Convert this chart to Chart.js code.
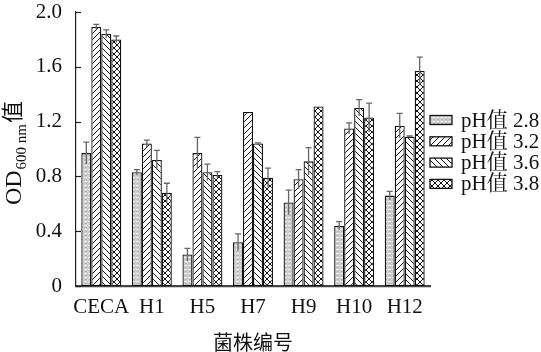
<!DOCTYPE html>
<html><head><meta charset="utf-8">
<script src="https://cdn.jsdelivr.net/npm/chart.js@4.4.0/dist/chart.umd.min.js"></script>
<style>html,body{margin:0;padding:0;background:#fff;}</style>
</head><body><canvas id="c" width="541" height="352"></canvas>
<script>
const categories = ['CECA','H1','H5','H7','H9','H10','H12'];
const seriesLabels = ['pH值 2.8','pH值 3.2','pH值 3.6','pH值 3.8'];
const ph28 = [0.97,0.83,0.23,0.32,0.61,0.44,0.66];
const ph32 = [1.89,1.04,0.97,1.27,0.78,1.15,1.17];
const ph36 = [1.84,0.92,0.83,1.04,0.91,1.30,1.09];
const ph38 = [1.80,0.68,0.81,0.79,1.31,1.23,1.57];
const err28 = [0.08,0.02,0.045,0.06,0.09,0.03,0.03];
const err32 = [0.02,0.025,0.115,0,0.07,0.04,0.09];
const err36 = [0.03,0.07,0.06,0.005,0.10,0.06,0.005];
const err38 = [0.025,0.07,0.025,0.07,0,0.105,0.10];
const yTicks = [0,0.4,0.8,1.2,1.6,2.0];
const yTitleMain = 'OD', yTitleSub = '600 nm', yTitleEnd = '值';
const xTitle = '菌株编号';

const FONT = '"Liberation Serif","Noto Serif CJK SC","Noto Sans CJK SC",serif';
const CJK = '"Noto Sans CJK SC","Liberation Serif",sans-serif';

function makePattern(kind){
  const s = kind==='gray'?4:6;
  const cv = document.createElement('canvas'); cv.width=s; cv.height=s;
  const g = cv.getContext('2d');
  if(kind==='gray'){
    g.fillStyle='#cdcdcd'; g.fillRect(0,0,s,s);
    g.fillStyle='#ececec'; g.fillRect(0,1,3,1);
    g.fillStyle='#b8b8b8'; g.fillRect(1,3,2,1);
  } else {
    g.fillStyle='#fff'; g.fillRect(0,0,s,s);
    g.strokeStyle='#111'; g.lineWidth=1;
    const fwd=()=>{g.beginPath();g.moveTo(-1,s+1);g.lineTo(s+1,-1);g.moveTo(-1,1);g.lineTo(1,-1);g.moveTo(s-1,s+1);g.lineTo(s+1,s-1);g.stroke();};
    const back=()=>{g.beginPath();g.moveTo(-1,-1);g.lineTo(s+1,s+1);g.moveTo(s-1,-1);g.lineTo(s+1,1);g.moveTo(-1,s-1);g.lineTo(1,s+1);g.stroke();};
    if(kind==='fwd') fwd();
    if(kind==='back') back();
    if(kind==='cross'){fwd();back();}
  }
  return document.getElementById('c').getContext('2d').createPattern(cv,'repeat');
}
const patterns = [makePattern('gray'),makePattern('fwd'),makePattern('back'),makePattern('cross')];
const values = [ph28,ph32,ph36,ph38];
const errors = [err28,err32,err36,err38];

const datasets = values.map((v,i)=>({
  label: seriesLabels[i], data: v, errors: errors[i],
  backgroundColor: patterns[i], borderColor:'#111', borderWidth:1.3, borderSkipped:false,
  categoryPercentage:0.79, barPercentage:1.0
}));

const errorBars = {
  id:'errorBars',
  afterDatasetsDraw(chart){
    const ctx=chart.ctx, y=chart.scales.y;
    ctx.save(); ctx.strokeStyle='#666'; ctx.lineWidth=1.3;
    chart.data.datasets.forEach((ds,di)=>{
      const meta=chart.getDatasetMeta(di);
      meta.data.forEach((bar,j)=>{
        const e=ds.errors[j]; if(!e) return;
        const v=ds.data[j];
        const yt=y.getPixelForValue(v+e), yb=y.getPixelForValue(v-e);
        ctx.beginPath();
        ctx.moveTo(bar.x,yt); ctx.lineTo(bar.x,yb);
        ctx.moveTo(bar.x-3,yt); ctx.lineTo(bar.x+3,yt);
        ctx.stroke();
      });
    });
    ctx.restore();
  }
};

const decorations = {
  id:'decorations',
  afterDraw(chart){
    const ctx=chart.ctx, ys=chart.scales.y, ca=chart.chartArea;
    ctx.save();
    ctx.strokeStyle='#222'; ctx.lineWidth=1.2;
    ys.ticks.forEach(t=>{
      const py=Math.round(ys.getPixelForValue(t.value))+0.5;
      ctx.beginPath(); ctx.moveTo(ca.left,py); ctx.lineTo(ca.left+5,py); ctx.stroke();
    });
    ctx.fillStyle='#111';
    const mainF='24px '+FONT, subF='15px '+FONT;
    ctx.font=mainF; const w1=ctx.measureText(yTitleMain).width;
    ctx.font=subF; const w2=ctx.measureText(yTitleSub).width;
    ctx.font='22px '+CJK; const w3=ctx.measureText(yTitleEnd).width;
    const total=w1+1+w2+1+w3;
    const cy=153;
    ctx.translate(21, cy+total/2); ctx.rotate(-Math.PI/2);
    ctx.textBaseline='alphabetic'; ctx.textAlign='left';
    ctx.font=mainF; ctx.fillText(yTitleMain,0,0);
    ctx.font=subF; ctx.fillText(yTitleSub,w1+1,5);
    ctx.font='22px '+CJK; ctx.fillText(yTitleEnd,w1+w2+2,-1);
    ctx.setTransform(1,0,0,1,0,0);
    const lx=430, ly0=120, step=21.3;
    chart.data.datasets.forEach((ds,i)=>{
      const cyy=ly0+i*step;
      ctx.fillStyle=ds.backgroundColor; ctx.fillRect(lx,cyy-4.5,22,9);
      ctx.strokeStyle='#111'; ctx.lineWidth=1.3; ctx.strokeRect(lx,cyy-4.5,22,9);
      ctx.fillStyle='#111'; ctx.font='21px '+FONT; ctx.textBaseline='middle'; ctx.textAlign='left';
      ctx.fillText(ds.label,lx+31,cyy+1);
    });
    ctx.restore();
  }
};

new Chart(document.getElementById('c'),{
  type:'bar',
  data:{labels:categories,datasets},
  options:{
    responsive:false, animation:false, devicePixelRatio:1,
    layout:{padding:{top:0,right:111,left:0,bottom:0}},
    plugins:{legend:{display:false},tooltip:{enabled:false}},
    scales:{
      x:{
        grid:{display:false,drawTicks:false},
        border:{display:true,color:'#444',width:2.2},
        ticks:{color:'#111',font:{family:FONT,size:21},padding:9,maxRotation:0,autoSkip:false},
        title:{display:true,text:xTitle,color:'#111',font:{family:CJK,size:20,lineHeight:1},padding:{top:0,bottom:0}},
        afterFit(s){s.height=66;}
      },
      y:{
        min:0,max:2,
        grid:{display:false,drawTicks:false},
        border:{display:true,color:'#222',width:1.2},
        afterBuildTicks(s){s.ticks=yTicks.map(v=>({value:v}));},
        ticks:{color:'#111',font:{family:FONT,size:21},padding:14,callback:v=>v===0?'0':v.toFixed(1)},
        afterFit(s){s.width=76;s.paddingTop=12;s.paddingBottom=0;}
      }
    }
  },
  plugins:[errorBars,decorations]
});
</script></body></html>
